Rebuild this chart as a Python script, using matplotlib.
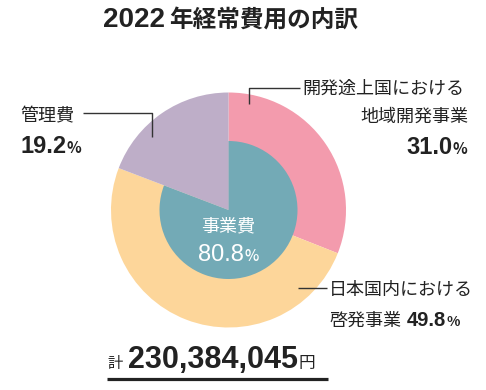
import matplotlib
matplotlib.use("Agg")
import matplotlib.pyplot as plt

plt.rcParams['font.family'] = ['Noto Sans CJK JP', 'DejaVu Sans']

# ---- data ----
title_year = "2022"
title_rest = "年経常費用の内訳"
outer_labels = ["開発途上国における地域開発事業", "日本国内における啓発事業", "管理費"]
outer_values = [31.0, 49.8, 19.2]
outer_colors = ["#F39BAD", "#FDD69A", "#BEAEC8"]
inner_label = "事業費"
inner_values = [80.8, 19.2]
inner_colors = ["#73AAB6", "none"]
total_text = "230,384,045"

W, H = 486, 390
fig = plt.figure(figsize=(W / 100, H / 100), dpi=100)
ax = fig.add_axes([0, 0, 1, 1])

def Y(py):
    return H - py

cx, cy = 228.5, Y(210)
R_out, R_in = 117.5, 69

ax.pie(outer_values, colors=outer_colors, startangle=90, counterclock=False,
       radius=R_out, center=(cx, cy), wedgeprops=dict(linewidth=0))
ax.pie(inner_values, colors=inner_colors, startangle=90, counterclock=False,
       radius=R_in, center=(cx, cy), wedgeprops=dict(linewidth=0))

ax.set_xlim(0, W)
ax.set_ylim(0, H)
ax.set_aspect('equal')
ax.axis('off')

TXT = "#222222"
LINE = "#333333"
LAT = ['Liberation Sans', 'DejaVu Sans']
JP = ['Noto Sans CJK JP', 'DejaVu Sans']

# leader lines
ax.plot([83, 152, 152], [Y(113), Y(113), Y(137)], color=LINE, lw=1.0, solid_capstyle='butt')
ax.plot([300, 249, 249], [Y(88), Y(88), Y(104)], color=LINE, lw=1.0, solid_capstyle='butt')
ax.plot([298, 327], [Y(288), Y(288)], color=LINE, lw=1.0, solid_capstyle='butt')

# simple Japanese label lines
ax.text(302, Y(89), "開発途上国における", ha='left', va='center', fontsize=13, color=TXT, family=JP)
ax.text(468, Y(117), "地域開発事業", ha='right', va='center', fontsize=13, color=TXT, family=JP)
ax.text(20, Y(116), outer_labels[2], ha='left', va='center', fontsize=13, color=TXT, family=JP)
ax.text(329, Y(290), "日本国内における", ha='left', va='center', fontsize=13, color=TXT, family=JP)
ax.text(cx, Y(226), inner_label, ha='center', va='center', fontsize=13, color='white', family=JP)

fig.canvas.draw()
renderer = fig.canvas.get_renderer()
inv = ax.transData.inverted()

def run(x, y, pieces, align='left'):
    texts = []
    for s, kw, gap in pieces:
        t = ax.text(0, y, s, ha='left', va='baseline', **kw)
        texts.append((t, gap))
    widths = []
    for t, gap in texts:
        bb = t.get_window_extent(renderer)
        p0 = inv.transform((bb.x0, bb.y0))
        p1 = inv.transform((bb.x1, bb.y1))
        widths.append(p1[0] - p0[0] + gap)
    total = sum(widths)
    if align == 'right':
        x0 = x - total
    elif align == 'center':
        x0 = x - total / 2
    else:
        x0 = x
    for (t, gap), w in zip(texts, widths):
        t.set_x(x0)
        x0 += w

num = dict(fontsize=17, fontweight='bold', color=TXT, family=LAT)
pct = dict(fontsize=11, fontweight='bold', color=TXT, family=JP)

# title
run(103, Y(27), [(title_year, dict(fontsize=20, fontweight='bold', color=TXT, family=LAT), 4),
                 (title_rest, dict(fontsize=17, fontweight='bold', color=TXT, family=JP), 0)])

run(467, Y(154), [(f"{outer_values[0]:.1f}", num, 0), ("%", pct, 0)], align='right')
run(20, Y(153), [(f"{outer_values[2]:.1f}", num, 0), ("%", pct, 0)], align='left')
run(329, Y(326), [("啓発事業", dict(fontsize=13, color=TXT, family=JP), 6),
                  (f"{outer_values[1]:.1f}", dict(fontsize=14.5, fontweight='bold', color=TXT, family=LAT), 0),
                  ("%", dict(fontsize=10, fontweight='bold', color=TXT, family=JP), 0)], align='left')
run(cx, Y(261), [(f"{inner_values[0]:.1f}", dict(fontsize=17, color='white', family=LAT), 0),
                 ("%", dict(fontsize=11, fontweight='medium', color='white', family=JP), 0)], align='center')
run(107, Y(368), [("計", dict(fontsize=11, color=TXT, family=JP), 6),
                  (total_text, dict(fontsize=22, fontweight='bold', color=TXT, family=LAT), 0),
                  ("円", dict(fontsize=12, color=TXT, family=JP), 0)], align='left')

ax.plot([107, 328], [Y(378.5), Y(378.5)], color=TXT, lw=2.3, solid_capstyle='butt')

fig.savefig("out.png", dpi=100)
